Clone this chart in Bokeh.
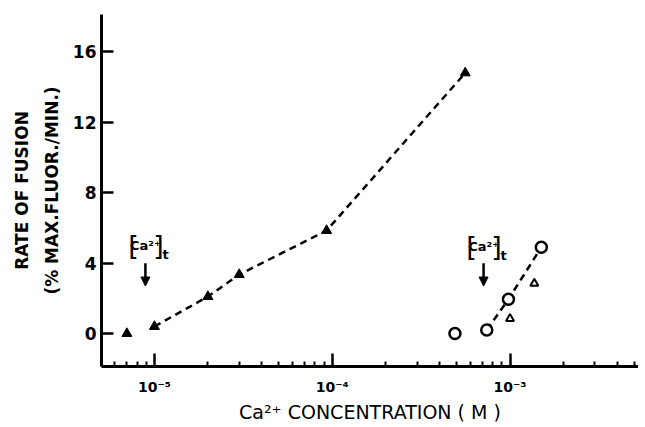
from bokeh.plotting import figure
from bokeh.models import FixedTicker, Range1d, Label, Arrow, NormalHead
from bokeh.embed import file_html
from bokeh.resources import INLINE

# ---- data ----
filled_tri_x = [7.0e-6, 1.0e-5, 2.0e-5, 3.0e-5, 9.3e-5, 5.6e-4]
filled_tri_y = [0.0, 0.4, 2.1, 3.35, 5.85, 14.8]
filled_line_x = filled_tri_x[1:]
filled_line_y = filled_tri_y[1:]

circle_x = [4.9e-4, 7.4e-4, 9.8e-4, 1.5e-3]
circle_y = [0.0, 0.2, 1.95, 4.9]
circle_line_x = circle_x[1:]
circle_line_y = circle_y[1:]

open_tri_x = [1.0e-3, 1.37e-3]
open_tri_y = [0.85, 2.85]

x_major = [1e-5, 1e-4, 1e-3]
x_major_labels = ["10\u207b\u2075", "10\u207b\u2074", "10\u207b\u00b3"]
x_minor = [m * d for d in [1e-6, 1e-5, 1e-4, 1e-3] for m in range(2, 10)]
y_ticks = [0, 4, 8, 12, 16]

annot_x = [8.9e-6, 7.1e-4]
annot_y = [5.0, 4.95]
arrow_top = [4.0, 4.0]
arrow_bottom = [2.7, 2.7]

BOLD = "DejaVu Sans"

p = figure(width=638, height=426, x_axis_type="log",
           x_range=Range1d(5.04e-6, 5.28e-3), y_range=Range1d(-1.87, 18.12),
           output_backend="svg", toolbar_location=None,
           min_border_left=101, min_border_right=0, min_border_top=14, min_border_bottom=60)
p.outline_line_color = None
p.xgrid.visible = False
p.ygrid.visible = False

for ax in (p.xaxis[0], p.yaxis[0]):
    ax.axis_line_width = 3
    ax.axis_line_color = "black"
    ax.major_tick_line_width = 2.5
    ax.minor_tick_line_width = 2
    ax.major_tick_out = 0
    ax.minor_tick_out = 0
    ax.major_label_text_font = BOLD
    ax.major_label_text_font_style = "bold"
    ax.major_label_text_color = "black"
    ax.axis_label_text_font = BOLD
    ax.axis_label_text_font_style = "bold"
    ax.axis_label_text_color = "black"

p.xaxis.ticker = FixedTicker(ticks=x_major, minor_ticks=x_minor)
p.xaxis.major_label_overrides = {t: lab for t, lab in zip(x_major, x_major_labels)}
p.xaxis.major_tick_in = 13
p.xaxis.minor_tick_in = 5
p.xaxis.major_label_text_font_size = "14px"
p.xaxis.major_label_standoff = 12
p.xaxis.axis_label = "Ca\u00b2\u207a CONCENTRATION ( M )"
p.xaxis.axis_label_text_font_size = "19px"
p.xaxis.axis_label_text_font_style = "normal"
p.xaxis.axis_label_standoff = 3

p.yaxis.ticker = FixedTicker(ticks=y_ticks, minor_ticks=[])
p.yaxis.major_tick_in = 12
p.yaxis.major_label_text_font_size = "17px"
p.yaxis.major_label_standoff = 5
p.yaxis.axis_label = "RATE OF FUSION\n(% MAX.FLUOR./MIN.)"
p.yaxis.axis_label_text_font_size = "17px"
p.yaxis.axis_label_text_line_height = 1.5
p.yaxis.axis_label_standoff = 8

p.line(filled_line_x, filled_line_y, line_color="black", line_width=2.5, line_dash="7 5")
p.line(circle_line_x, circle_line_y, line_color="black", line_width=2.5, line_dash="7 5")

p.scatter(filled_tri_x, filled_tri_y, marker="triangle", size=10,
          fill_color="black", line_color="black")
p.scatter(circle_x, circle_y, marker="circle", size=11,
          fill_color="white", line_color="black", line_width=2.5)
p.scatter(open_tri_x, open_tri_y, marker="triangle", size=8,
          fill_color="white", line_color="black", line_width=2)

for ax_, ay_, at, ab in zip(annot_x, annot_y, arrow_top, arrow_bottom):
    p.add_layout(Label(x=ax_, y=ay_, x_offset=-12, text="[", text_font=BOLD,
                       text_font_size="27px", text_align="center", text_baseline="middle",
                       text_color="black"))
    p.add_layout(Label(x=ax_, y=ay_, x_offset=0, text="Ca\u00b2\u207a", text_font=BOLD,
                       text_font_style="bold", text_font_size="13px",
                       text_align="center", text_baseline="middle", text_color="black"))
    p.add_layout(Label(x=ax_, y=ay_, x_offset=13, text="]", text_font=BOLD,
                       text_font_size="27px", text_align="center", text_baseline="middle",
                       text_color="black"))
    p.add_layout(Label(x=ax_, y=ay_, x_offset=17, y_offset=-9, text="t",
                       text_font=BOLD, text_font_style="bold", text_font_size="13px",
                       text_align="left", text_baseline="middle", text_color="black"))
    p.add_layout(Arrow(x_start=ax_, y_start=at, x_end=ax_, y_end=ab,
                       line_width=2.5, line_color="black",
                       end=NormalHead(size=9, fill_color="black", line_color="black")))

open("out.html", "w").write(file_html(p, INLINE))
